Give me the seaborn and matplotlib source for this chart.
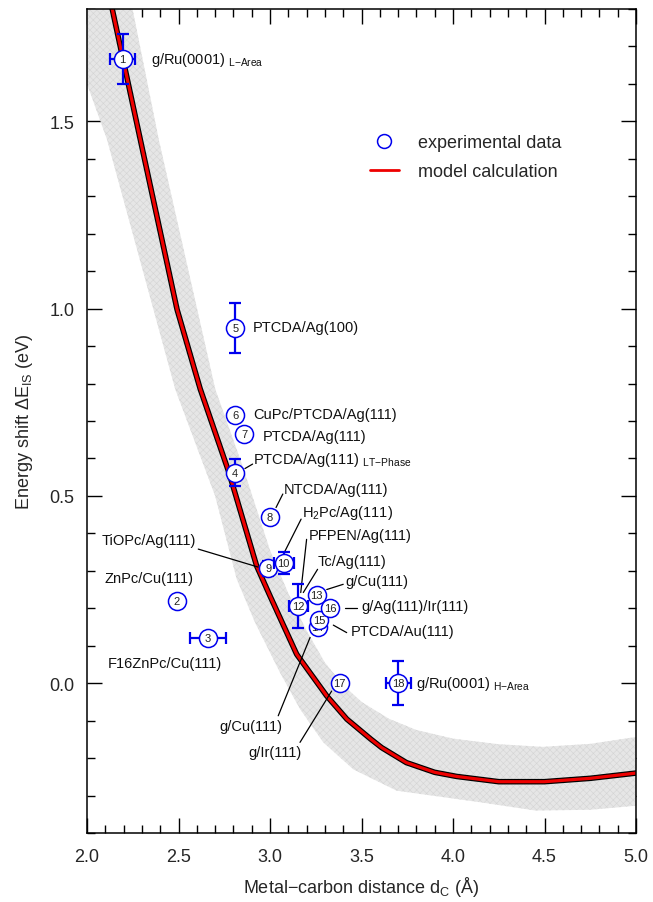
import numpy as np
import pandas as pd
import matplotlib
matplotlib.use("Agg")
import matplotlib.pyplot as plt
import matplotlib.patheffects as pe
from matplotlib.lines import Line2D
from matplotlib.ticker import MultipleLocator
import seaborn as sns

# model calculation
model_x = [2.10, 2.291, 2.492, 2.619, 2.776, 2.927, 3.00, 3.146, 3.31, 3.42,
           3.55, 3.61, 3.745, 3.90, 4.02, 4.25, 4.50, 4.75, 5.00]
model_y = [1.886, 1.452, 0.998, 0.785, 0.562, 0.313, 0.233, 0.077, -0.034, -0.096,
           -0.149, -0.172, -0.212, -0.238, -0.249, -0.263, -0.263, -0.254, -0.240]

# uncertainty band edges
band_up_x = [2.22, 2.392, 2.701, 2.85, 3.0, 3.1, 3.2, 3.3, 3.4, 3.5, 3.65, 3.80,
             4.0, 4.25, 4.49, 4.75, 5.05]
band_up_y = [1.87, 1.452, 0.785, 0.58, 0.355, 0.24, 0.14, 0.055, -0.005, -0.05, -0.095, -0.125,
             -0.148, -0.163, -0.170, -0.162, -0.14]
band_lo_x = [1.90, 2.0, 2.109, 2.482, 2.70, 2.818, 2.92, 3.055, 3.164, 3.291, 3.455,
             3.692, 4.15, 4.45, 4.75, 5.05]
band_lo_y = [1.78, 1.60, 1.452, 0.785, 0.50, 0.278, 0.16, 0.028, -0.069, -0.158, -0.23,
             -0.287, -0.318, -0.340, -0.338, -0.325]

# experimental data
pt_id = [1, 2, 3, 4, 5, 6, 7, 8, 9, 10, 12, 13, 14, 15, 16, 17, 18]
pt_x = [2.195, 2.49, 2.66, 2.81, 2.81, 2.81, 2.86, 3.00, 2.99, 3.075, 3.155, 3.255, 3.26, 3.27, 3.33, 3.38, 3.70]
pt_y = [1.667, 0.22, 0.12, 0.562, 0.948, 0.716, 0.664, 0.445, 0.307, 0.32, 0.206, 0.235, 0.149, 0.168, 0.201, 0.0, 0.0]
x_err = [0.068, 0, 0.097, 0, 0, 0, 0, 0, 0, 0.055, 0.05, 0, 0, 0, 0, 0, 0.068]
y_err = [0.067, 0, 0, 0.036, 0.067, 0, 0, 0, 0.02, 0.029, 0.06, 0, 0, 0, 0, 0, 0.059]

# annotations: text, position, alignment, leader line (or None)
lab_text = [r"g/Ru(0001) $_{\rm L{-}Area}$", "ZnPc/Cu(111)", "F16ZnPc/Cu(111)",
            r"PTCDA/Ag(111) $_{\rm LT{-}Phase}$", "PTCDA/Ag(100)", "CuPc/PTCDA/Ag(111)",
            "PTCDA/Ag(111)", "NTCDA/Ag(111)", "TiOPc/Ag(111)", r"H$_{\rm 2}$Pc/Ag(111)",
            "PFPEN/Ag(111)", "Tc/Ag(111)", "g/Cu(111)", "g/Ag(111)/Ir(111)",
            "PTCDA/Au(111)", "g/Cu(111)", "g/Ir(111)", r"g/Ru(0001) $_{\rm H{-}Area}$"]
lab_x = [2.35, 2.098, 2.113, 2.909, 2.907, 2.909, 2.96, 3.076, 2.08, 3.173,
         3.21, 3.26, 3.41, 3.50, 3.44, 3.065, 3.173, 3.80]
lab_y = [1.667, 0.282, 0.053, 0.598, 0.95, 0.72, 0.66, 0.518, 0.382, 0.456,
         0.395, 0.326, 0.273, 0.206, 0.138, -0.114, -0.185, 0.0]
lab_ha = ["left"] * 15 + ["right", "right", "left"]
lead = [None, None, None, (2.863, 0.573, 2.905, 0.585), None, None, None,
        (3.033, 0.469, 3.070, 0.505), (2.608, 0.358, 2.935, 0.31),
        (3.17, 0.438, 3.075, 0.346), (3.20, 0.384, 3.168, 0.242),
        (3.26, 0.304, 3.182, 0.242), (3.40, 0.264, 3.31, 0.25),
        (3.41, 0.200, 3.477, 0.200), (3.346, 0.155, 3.419, 0.135),
        (3.045, -0.087, 3.219, 0.122), (3.164, -0.158, 3.337, -0.021), None]

sns.set_theme(style="ticks")
plt.rcParams["font.family"] = ["Liberation Sans", "DejaVu Sans"]
plt.rcParams["mathtext.fontset"] = "custom"
plt.rcParams["mathtext.rm"] = "Liberation Sans"
plt.rcParams["mathtext.it"] = "Liberation Sans:italic"
plt.rcParams["hatch.linewidth"] = 0.4

fig = plt.figure(figsize=(6.53, 9.03), dpi=100)
ax = fig.add_axes([87 / 653, 1 - 834 / 903, 549 / 653, 824 / 903])

# grey band
poly_x = band_up_x + band_lo_x[::-1]
poly_y = band_up_y + band_lo_y[::-1]
ax.fill(poly_x, poly_y, facecolor="#e6e6e6", edgecolor="#d4d4d4", hatch="xxxxx",
        linewidth=0, zorder=1)

# model line with black outline
model = pd.DataFrame({"d": model_x, "E": model_y})
sns.lineplot(data=model, x="d", y="E", sort=False, color="#ee0000", lw=2.3, ax=ax,
             zorder=2, path_effects=[pe.Stroke(linewidth=4.0, foreground="black"), pe.Normal()])

# leader lines and labels
for t, tx, ty, ha, ld in zip(lab_text, lab_x, lab_y, lab_ha, lead):
    if ld is not None:
        ax.plot([ld[0], ld[2]], [ld[1], ld[3]], color="black", lw=0.9, zorder=3)
    ax.text(tx, ty, t, ha=ha, va="center", fontsize=10.5, color="#111111", zorder=4)

# experimental points
for i, (n, x, y, xe, ye) in enumerate(zip(pt_id, pt_x, pt_y, x_err, y_err)):
    z = 10 + 3 * i
    if xe or ye:
        ax.errorbar(x, y, xerr=xe if xe else None, yerr=ye if ye else None, fmt="none",
                    ecolor="#0000ee", elinewidth=1.6, capsize=4.5, capthick=1.6, zorder=z)
    ax.plot(x, y, "o", ms=13, mfc="white", mec="#0000ee", mew=1.1, zorder=z + 1)
    ax.text(x, y, str(n), ha="center", va="center", fontsize=8, color="#222222", zorder=z + 2)

ax.set_xlim(2.0, 5.0)
ax.set_ylim(-0.4, 1.8)
ax.xaxis.set_major_locator(MultipleLocator(0.5))
ax.xaxis.set_minor_locator(MultipleLocator(0.1))
ax.yaxis.set_major_locator(MultipleLocator(0.5))
ax.yaxis.set_minor_locator(MultipleLocator(0.1))
ax.set_yticks([0.0, 0.5, 1.0, 1.5])
ax.tick_params(which="both", direction="in", top=True, right=True, color="black", width=1.0)
ax.tick_params(which="major", length=11, labelsize=13)
ax.tick_params(axis="x", which="major", pad=11)
ax.tick_params(axis="y", which="major", pad=9)
ax.tick_params(which="minor", length=5.5)
for s in ax.spines.values():
    s.set_linewidth(1.1)
    s.set_color("black")

ax.set_xlabel(r"Metal$-$carbon distance d$_{\rm C}$ (Å)", fontsize=13, labelpad=6)
ax.set_ylabel(r"Energy shift $\Delta$E$_{\rm IS}$ (eV)", fontsize=13, labelpad=10)

handles = [Line2D([], [], marker="o", ls="none", ms=10, mfc="none", mec="#0000ee", mew=1.1),
           Line2D([], [], color="#ee0000", lw=2)]
ax.legend(handles, ["experimental data", "model calculation"], loc="center left",
          bbox_to_anchor=(0.515, 0.820), frameon=False, fontsize=13, borderpad=0,
          borderaxespad=0, handlelength=1.6, handletextpad=1.05, labelspacing=0.65)

fig.savefig("out.png", dpi=100)
